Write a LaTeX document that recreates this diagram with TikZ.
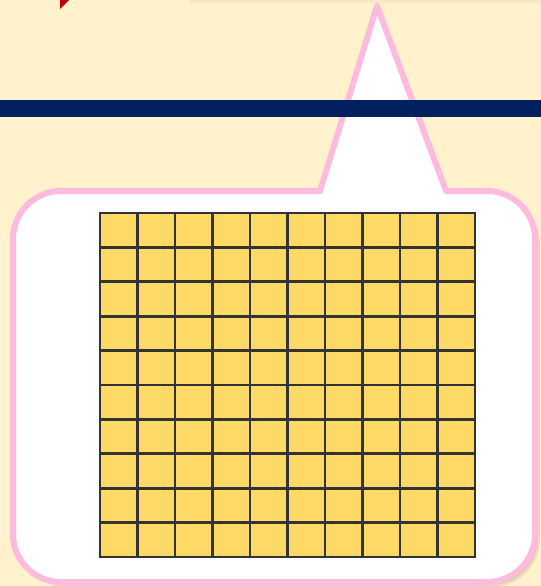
\documentclass[tikz,border=0pt]{standalone}
\usetikzlibrary{positioning}
\definecolor{cream}{HTML}{FFF2CC}
\definecolor{bubblepink}{HTML}{FFBBDD}
\definecolor{navybar}{HTML}{002060}
\definecolor{cellyellow}{HTML}{FFD966}
\definecolor{cornerred}{HTML}{C00000}
\begin{document}
\begin{tikzpicture}[x=0.75pt, y=-0.75pt,
    bubble/.style={draw=bubblepink, line width=4.5pt, fill=white,
    rounded corners=36pt, line join=round},
    bubbleshade/.style={fill=black!70!brown, opacity=0.10,
    rounded corners=36pt},
    gridline/.style={draw=black!80, line width=2pt, line cap=rect}
  ]
  % Background
  \fill[cream] (0,0) rectangle (541,586);
  \useasboundingbox (0,0) rectangle (541,586);
  \fill[black, opacity=0.04] (190,0) rectangle (541,2.5);

  % Red corner mark
  \fill[cornerred] (60,0) -- (69,0) -- (60,9) -- cycle;

  % Shadow of the speech bubble
  \foreach \off in {3,5}
    \path[bubbleshade, shift={(\off,\off)}]
    (200,191) -- (13,191) -- (13,582) -- (535,582) -- (535,191)
    [sharp corners] -- (446,191) -- (377,6) -- (320,191) -- cycle;

  % Speech bubble
  \path[bubble]
  (200,191) -- (13,191) -- (13,582) -- (535,582) -- (535,191)
  [sharp corners] -- (446,191) -- (377,6) -- (320,191) -- cycle;

  % Hundred grid
  \coordinate (gridNW) at (100,213);
  \coordinate (gridSE) at (475,557);
  \fill[cellyellow] (gridNW) rectangle (gridSE);
  \foreach \i in {0,...,10} {
    \draw[gridline] (100+37.5*\i,213) -- (100+37.5*\i,557);
    \draw[gridline] (100,213+34.4*\i) -- (475,213+34.4*\i);
  }

  % Title bar
  \fill[navybar] (0,100) rectangle (541,116.5);
\end{tikzpicture}
\end{document}
